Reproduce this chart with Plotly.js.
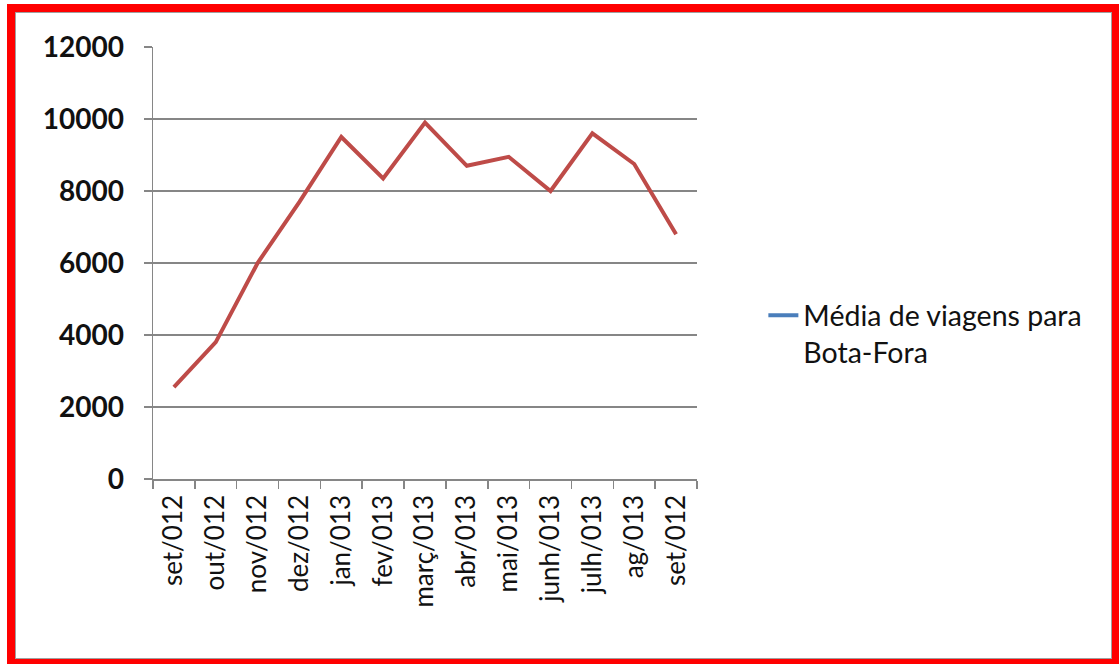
<!DOCTYPE html>
<html>
<head>
<meta charset="utf-8">
<script src="https://cdn.plot.ly/plotly-3.0.1.min.js"></script>
<style>
  html, body { margin: 0; padding: 0; background: #ffffff; }
  #frame { position: absolute; left: 7px; top: 4px; width: 1112px; height: 660px; background: #ff0000; }
  #inner { position: absolute; left: 8px; top: 8px; width: 1095px; height: 645px; background: #ffffff; border: 1px solid #a0a0a0; }
  #chart { position: absolute; left: 0; top: 0; width: 1095px; height: 645px; }
</style>
</head>
<body>
<div id="frame"><div id="inner"><div id="chart"></div></div></div>
<script>
const categories = ["set/012", "out/012", "nov/012", "dez/012", "jan/013", "fev/013", "març/013", "abr/013", "mai/013", "junh/013", "julh/013", "ag/013", "set/012 "];
const mediaViagens = [2550, 3800, 6000, 7700, 9500, 8350, 9900, 8700, 8950, 8000, 9600, 8750, 6800];
const seriesName = "Média de viagens para<br>Bota-Fora";
const yTicks = [0, 2000, 4000, 6000, 8000, 10000, 12000];

const traces = [
  {
    x: categories, y: mediaViagens, type: "scatter", mode: "lines",
    line: { color: "#BE4B48", width: 4 }, showlegend: false, hoverinfo: "x+y"
  },
  {
    x: [categories[0]], y: [null], type: "scatter", mode: "lines",
    name: seriesName, line: { color: "#4A7EBB", width: 4 }, showlegend: true
  }
];

const layout = {
  width: 1095, height: 645,
  margin: { l: 137, r: 414, t: 34, b: 179 },
  paper_bgcolor: "#ffffff", plot_bgcolor: "#ffffff",
  font: { family: "Lato, 'Open Sans', sans-serif", color: "#000000" },
  showlegend: true,
  legend: {
    x: 1.122, y: 0.335, xanchor: "left", yanchor: "middle", valign: "top",
    font: { size: 28.5, family: "Lato, sans-serif", color: "#111111" },
    bgcolor: "rgba(0,0,0,0)", itemwidth: 30, tracegroupgap: 0
  },
  xaxis: {
    type: "category", categoryorder: "array", categoryarray: categories,
    range: [-0.5, categories.length - 0.5],
    tickmode: "array", tickvals: categories, ticktext: categories.map(s => s.trim()),
    tickangle: -90, tickfont: { size: 26, family: "Lato, sans-serif", color: "#111111" },
    showgrid: false, showline: true, linecolor: "#868686", linewidth: 1.5,
    ticks: "outside", tickson: "boundaries", ticklen: 8, tickcolor: "#868686", tickwidth: 1.5,
    zeroline: false, fixedrange: true, ticklabelstandoff: 4
  },
  yaxis: {
    range: [0, 12000], tickmode: "array", tickvals: yTicks, ticktext: yTicks.map(String),
    tickfont: { size: 28, family: "Lato, sans-serif", color: "#111111", weight: "bold" },
    showgrid: true, gridcolor: "#868686", gridwidth: 1.5,
    showline: true, linecolor: "#868686", linewidth: 1.5,
    ticks: "outside", ticklen: 8, tickcolor: "#868686", tickwidth: 1.5,
    zeroline: false, fixedrange: true, ticklabelstandoff: 14
  }
};

Plotly.newPlot("chart", traces, layout, { displayModeBar: false, staticPlot: true });
</script>
</body>
</html>
